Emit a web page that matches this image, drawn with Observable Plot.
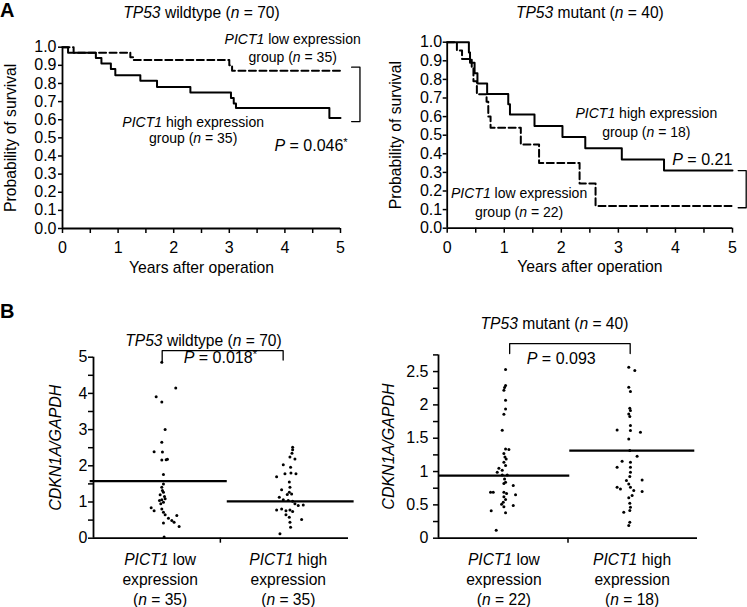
<!DOCTYPE html>
<html><head><meta charset="utf-8">
<script src="https://cdn.jsdelivr.net/npm/d3@7"></script>
<script src="https://cdn.jsdelivr.net/npm/@observablehq/plot@0.6"></script>
<style>
body{margin:0;background:#fff;}
#fig{position:relative;width:747px;height:607px;overflow:hidden;font-family:"Liberation Sans",Arial,sans-serif;color:#000;}
.panel{position:absolute;}
.letter{position:absolute;font-weight:bold;font-size:20px;line-height:1;}
</style></head><body><div id="fig"></div>
<script>
// ---------- Panel A: Kaplan–Meier curves (years, survival probability) ----------
const wtHighT = [0, 0.1, 0.6, 0.7, 0.87, 0.95, 1.4, 1.7, 2.3, 3.03, 3.08, 3.12, 4.8, 5.0];
const wtHighS = [1.0, 0.97, 0.94, 0.91, 0.88, 0.845, 0.815, 0.78, 0.75, 0.72, 0.69, 0.665, 0.61, 0.61];
const wtLowT  = [0, 0.2, 1.22, 1.27, 3.0, 3.05, 5.0];
const wtLowS  = [1.0, 0.97, 0.945, 0.93, 0.90, 0.87, 0.87];
const mtHighT = [0, 0.38, 0.40, 0.48, 0.53, 0.70, 1.07, 1.10, 1.53, 2.02, 2.42, 3.06, 3.8, 5.0];
const mtHighS = [1.0, 0.944, 0.889, 0.833, 0.778, 0.722, 0.667, 0.611, 0.55, 0.49, 0.43, 0.37, 0.31, 0.31];
const mtLowT  = [0, 0.17, 0.26, 0.43, 0.46, 0.52, 0.69, 0.72, 0.76, 1.29, 1.61, 2.32, 2.6, 5.0];
const mtLowS  = [1.0, 0.955, 0.91, 0.86, 0.79, 0.72, 0.68, 0.60, 0.54, 0.45, 0.35, 0.24, 0.12, 0.12];

const yearTicks = [0, 0.5, 1, 1.5, 2, 2.5, 3, 3.5, 4, 4.5, 5];
const survTicks = [0, 0.1, 0.2, 0.3, 0.4, 0.5, 0.6, 0.7, 0.8, 0.9, 1.0];

// ---------- Panel B: CDKN1A/GAPDH per patient (value, horizontal jitter) ----------
const wtLowVal = [4.86,4.15,3.91,3.76,3.0,2.65,2.39,2.38,2.16,2.17,2.18,1.76,1.5,1.41,1.32,1.27,1.2,1.15,1.06,1.09,0.99,1.04,0.95,0.84,0.76,0.81,0.72,0.65,0.63,0.55,0.49,0.42,0.44,0.32,0.03];
const wtLowJit = [.013,.122,-.031,.013,.039,.013,-.047,.018,.013,.047,.057,.026,.026,.013,.018,.026,0,.034,.013,.039,.026,-.005,.005,-.07,-.047,.013,.026,.039,.13,.065,.091,.026,.109,.148,.031];
const wtHighVal = [2.51,2.44,2.35,2.24,2.19,2.03,1.96,1.78,1.8,1.78,1.7,1.55,1.41,1.34,1.27,1.21,1.22,1.13,1.06,1.04,1.02,0.95,0.9,0.92,0.78,0.81,0.76,0.78,0.74,0.65,0.58,0.52,0.44,0.3,0.12];
const wtHighJit = [.034,.034,.029,.013,.052,-.039,.018,-.026,.021,.060,-.091,.008,.013,-.052,.008,-.008,.026,-.070,-.039,0,.034,.052,.078,.117,-.091,-.052,-.018,.013,.034,-.018,.008,.104,.013,.018,-.065];
const mtLowVal = [2.53,2.29,2.26,2.22,2.07,1.94,1.86,1.62,1.34,1.33,1.27,1.22,1.19,1.14,1.09,1.05,1.02,0.99,0.95,0.95,0.89,0.84,0.82,0.79,0.69,0.69,0.69,0.67,0.65,0.62,0.58,0.54,0.51,0.49,0.47,0.41,0.38,0.12];
const mtLowJit = [.013,.013,.005,0,.013,.013,0,-.013,.013,.039,0,.008,.018,0,.013,-.039,-.013,-.052,-.013,.026,.005,.013,0,.073,-.104,-.083,0,.021,.091,0,.013,-.005,-.018,.073,0,-.099,.013,-.060];
const mtHighVal = [2.565,2.515,2.265,2.2,1.95,1.915,1.865,1.825,1.625,1.69,1.615,1.59,1.49,1.315,1.23,1.155,1.065,1.14,1.065,0.99,0.925,0.865,0.875,0.765,0.74,0.815,0.765,0.715,0.7,0.64,0.605,0.525,0.465,0.39,0.415,0.24,0.19];
const mtHighJit = [-.026,.021,-.026,-.013,-.018,-.013,-.026,-.018,-.117,-.013,-.013,.065,-.026,-.018,.039,-.078,-.117,-.013,-.013,-.013,-.018,-.044,.078,-.117,-.091,-.026,-.013,.013,.078,0,-.026,-.018,-.013,-.065,-.018,-.018,-.026];

const groupNames = ["low", "high"];          // position 0 and 1 on the category axis
const wtMeans = [1.575, 1.02];
const mtMeans = [0.94, 1.315];
const wtN = [35, 35];
const mtN = [22, 18];

const FONT = '"Liberation Sans", Arial, sans-serif';
const fig = document.getElementById("fig");

function rich(svg) {
  svg.querySelectorAll("text").forEach(t => {
    if (t.children.length) return;
    const s = t.textContent;
    if (!/[_^]/.test(s)) return;
    t.textContent = "";
    s.split(/(_[^_]+_|\^[^^]+\^)/).forEach(part => {
      if (!part) return;
      const ts = document.createElementNS("http://www.w3.org/2000/svg", "tspan");
      if (part[0] === "_") { ts.setAttribute("font-style", "italic"); ts.textContent = part.slice(1, -1); }
      else if (part[0] === "^") { ts.setAttribute("dy", "-0.4em"); ts.setAttribute("font-size", "0.7em"); ts.textContent = part.slice(1, -1); }
      else ts.textContent = part;
      t.appendChild(ts);
    });
  });
}

function place(svg, left, top) {
  const d = document.createElement("div");
  d.className = "panel";
  d.style.left = left + "px"; d.style.top = top + "px";
  rich(svg);
  d.appendChild(svg);
  fig.appendChild(d);
}
function letter(ch, left, top) {
  const d = document.createElement("div");
  d.className = "letter"; d.textContent = ch;
  d.style.left = left + "px"; d.style.top = top + "px";
  fig.appendChild(d);
}
const zip = (t, s) => t.map((v, i) => ({t: v, s: s[i]}));
const style = {fontFamily: FONT, fontSize: "16px", background: "white", overflow: "visible"};

function kmPlot(o) {
  return Plot.plot({
    width: o.width, height: 285,
    marginLeft: o.ml, marginRight: o.mr, marginTop: o.mt, marginBottom: 285 - o.bottom,
    x: {domain: [0, 5]}, y: {domain: [0, 1]},
    style,
    marks: [
      Plot.axisX({ticks: yearTicks, tickSize: 5, tickPadding: 8, tickFormat: d => d % 1 === 0 ? String(d) : "", label: null, strokeWidth: 1.5}),
      Plot.axisY({ticks: survTicks, tickSize: 4, tickPadding: o.ypad, tickFormat: d3.format(".1f"), label: null, strokeWidth: 1.5}),
      Plot.ruleX([0], {strokeWidth: 1.8}),
      Plot.ruleY([0], {strokeWidth: 1.8}),
      Plot.line(o.low, {x: "t", y: "s", curve: "step-after", strokeWidth: 2, strokeDasharray: "7,3.5"}),
      Plot.line(o.high, {x: "t", y: "s", curve: "step-after", strokeWidth: 2}),
      Plot.line(o.bracket, {x: "x", y: "y", strokeWidth: 1.3}),
      Plot.text(o.notes, {x: "x", y: "y", text: "text", fontSize: 14}),
      Plot.text([o.pText], {x: o.pPos[0], y: o.pPos[1], fontSize: 16}),
      Plot.text([o.title], {frameAnchor: "top", dy: o.titleDy, lineAnchor: "middle", fontSize: 15.6}),
      Plot.text(["Years after operation"], {frameAnchor: "bottom", dy: 39, lineAnchor: "middle", fontSize: 15.7}),
      Plot.text(["Probability of survival"], {frameAnchor: "left", rotate: -90, dx: o.ylabDx, textAnchor: "middle", lineAnchor: "middle", fontSize: 15.7})
    ]
  });
}

place(kmPlot({
  width: 370, ml: 62, mr: 30, mt: 46.7, bottom: 228, ypad: 2, titleDy: -34.7, ylabDx: -52,
  title: "_TP53_ wildtype (_n_ = 70)",
  high: zip(wtHighT, wtHighS), low: zip(wtLowT, wtLowS),
  bracket: [{x: 5.2, y: 0.89}, {x: 5.35, y: 0.89}, {x: 5.35, y: 0.59}, {x: 5.2, y: 0.59}],
  notes: [
    {x: 4.14, y: 1.045, text: "_PICT1_ low expression"},
    {x: 4.14, y: 0.945, text: "group (_n_ = 35)"},
    {x: 2.35, y: 0.586, text: "_PICT1_ high expression"},
    {x: 2.35, y: 0.496, text: "group (_n_ = 35)"}
  ],
  pText: "_P_ = 0.046^*^", pPos: [4.47, 0.458]
}), 0, 0);

place(kmPlot({
  width: 377, ml: 76.7, mr: 15, mt: 41.7, bottom: 227.7, ypad: 1, titleDy: -29.7, ylabDx: -51.7,
  title: "_TP53_ mutant (_n_ = 40)",
  high: zip(mtHighT, mtHighS), low: zip(mtLowT, mtLowS),
  bracket: [{x: 5.1, y: 0.31}, {x: 5.24, y: 0.31}, {x: 5.24, y: 0.11}, {x: 5.1, y: 0.11}],
  notes: [
    {x: 3.49, y: 0.617, text: "_PICT1_ high expression"},
    {x: 3.49, y: 0.514, text: "group (_n_ = 18)"},
    {x: 1.26, y: 0.187, text: "_PICT1_ low expression"},
    {x: 1.26, y: 0.085, text: "group (_n_ = 22)"}
  ],
  pText: "_P_ = 0.21", pPos: [4.47, 0.369]
}), 370, 0);

function dotPlot(o) {
  const pts = [];
  o.vals.forEach((vals, g) => vals.forEach((v, i) => pts.push({x: g + o.jits[g][i], y: v})));
  const means = groupNames.map((name, g) => ({x1: o.meanX[g][0], x2: o.meanX[g][1], y: o.means[g]}));
  const cats = groupNames.map((name, g) => ({x: g, l1: `_PICT1_ ${name}`, l2: "expression", l3: `(_n_ = ${o.n[g]})`}));
  return Plot.plot({
    width: o.width, height: 317,
    marginLeft: o.ml, marginRight: o.mr, marginTop: o.mt, marginBottom: 69.3,
    x: {domain: o.xdom}, y: {domain: o.ydom},
    style,
    marks: [
      Plot.axisX({ticks: [o.mid], tickSize: 5, tickFormat: () => "", label: null, strokeWidth: 1.5}),
      Plot.axisY({ticks: o.yticks, tickSize: 5, tickPadding: o.ypad, tickFormat: o.yfmt, label: null, strokeWidth: 1.5}),
      Plot.ruleX([o.xdom[0]], {strokeWidth: 1.8}),
      Plot.ruleY([0], {strokeWidth: 1.8}),
      Plot.dot(pts, {x: "x", y: "y", r: 1.5, fill: "black", stroke: null}),
      Plot.link(means, {x1: "x1", x2: "x2", y1: "y", y2: "y", strokeWidth: 2.2}),
      Plot.line(o.bracket, {x: "x", y: "y", strokeWidth: 1.3}),
      Plot.text([o.pText], {x: o.pPos[0], y: o.pPos[1], fontSize: 16}),
      Plot.text([o.title], {frameAnchor: "top", dx: o.titleDx, dy: o.titleDy, lineAnchor: "middle", fontSize: 15.6}),
      Plot.text(cats, {x: "x", text: "l1", frameAnchor: "bottom", dy: 22, lineAnchor: "middle", fontSize: 15.6}),
      Plot.text(cats, {x: "x", text: "l2", frameAnchor: "bottom", dy: 42, lineAnchor: "middle", fontSize: 15.6}),
      Plot.text(cats, {x: "x", text: "l3", frameAnchor: "bottom", dy: 61.5, lineAnchor: "middle", fontSize: 15.6}),
      Plot.text(["_CDKN1A/GAPDH_"], {frameAnchor: "left", rotate: -90, dx: o.ylabDx, textAnchor: "middle", lineAnchor: "middle", fontSize: 16})
    ]
  });
}

place(dotPlot({
  width: 370, ml: 93, mr: 22, mt: 66.7, xdom: [-0.52, 1.47], ydom: [0, 5], mid: 0.47,
  yticks: [0, 0.5, 1, 1.5, 2, 2.5, 3, 3.5, 4, 4.5, 5], yfmt: d => d % 1 === 0 ? String(d) : "", ypad: 1,
  vals: [wtLowVal, wtHighVal], jits: [wtLowJit, wtHighJit], means: wtMeans, n: wtN,
  meanX: [[-0.55, 0.52], [0.52, 1.51]],
  bracket: [{x: 0.016, y: 4.85}, {x: 0.016, y: 5.18}, {x: 0.96, y: 5.18}, {x: 0.96, y: 4.92}],
  pText: "_P_ = 0.018^*^", pPos: [0.47, 4.99],
  title: "_TP53_ wildtype (_n_ = 70)", titleDx: -17.5, titleDy: -16.7, ylabDx: -38
}), 0, 290);

place(dotPlot({
  width: 377, ml: 68, mr: 50, mt: 64.4, xdom: [-0.51, 1.51], ydom: [0, 2.75], mid: 0.5,
  yticks: [0, 0.25, 0.5, 0.75, 1, 1.25, 1.5, 1.75, 2, 2.25, 2.5, 2.75], yfmt: d => (d * 2) % 1 === 0 ? String(d) : "", ypad: 5,
  vals: [mtLowVal, mtHighVal], jits: [mtLowJit, mtHighJit], means: mtMeans, n: mtN,
  meanX: [[-0.51, 0.51], [0.51, 1.485]],
  bracket: [{x: 0.045, y: 2.77}, {x: 0.045, y: 2.92}, {x: 0.985, y: 2.92}, {x: 0.985, y: 2.77}],
  pText: "_P_ = 0.093", pPos: [0.447, 2.69],
  title: "_TP53_ mutant (_n_ = 40)", titleDx: -13.5, titleDy: -31.4, ylabDx: -50
}), 370, 290);

letter("A", 0, 0);
letter("B", 0, 301);
</script>
</body></html>
